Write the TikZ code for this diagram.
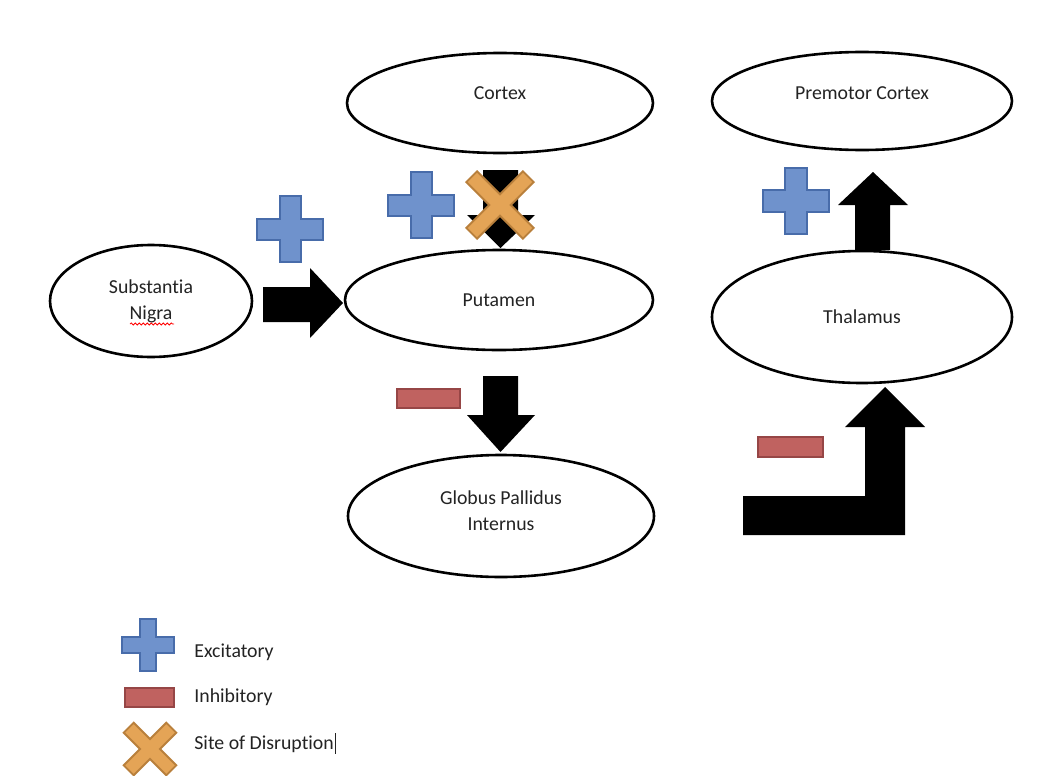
\documentclass[tikz,border=0pt]{standalone}
\usepackage{fontspec}
\setmainfont{Carlito}[RawFeature=-liga]
\usetikzlibrary{shapes.geometric,decorations.pathmorphing}

\definecolor{plusblue}{RGB}{111,146,204}
\definecolor{plusedge}{RGB}{72,108,170}
\definecolor{minusred}{RGB}{192,98,96}
\definecolor{minusedge}{RGB}{150,70,70}
\definecolor{crossorange}{RGB}{228,164,86}
\definecolor{crossedge}{RGB}{185,128,60}
\definecolor{inkgray}{RGB}{35,35,35}

\tikzset{
region/.style={ellipse, draw, line width=1.3pt, inner sep=0pt, align=center},
pics/excite/.style n args = {2}{
	code = {
	\draw[fill=plusblue, draw=plusedge, line width=1pt] (-#2,-#1) -- (#2,-#1) -- (#2,-#2) -- (#1,-#2) -- (#1,#2) -- (#2,#2) -- (#2,#1) -- (-#2,#1) -- (-#2,#2) -- (-#1,#2) -- (-#1,-#2) -- (-#2,-#2) -- cycle;
	}
	},
pics/inhibit/.style n args = {2}{
	code = {
	\draw[fill=minusred, draw=minusedge, line width=1pt] (-#1,-#2) rectangle (#1,#2);
	}
	},
pics/disrupt/.style n args = {2}{
	code = {
	\foreach \a in {45,-45}
		\draw[crossedge, line width=2pt, rotate=\a] (-#1,-#2) rectangle (#1,#2);
	\foreach \a in {45,-45}
		\fill[crossorange, rotate=\a] (-#1,-#2) rectangle (#1,#2);
	}
	}
}

\begin{document}
\begin{tikzpicture}[x=0.5pt, y=-0.5pt, font=\fontsize{9.9}{13}\selectfont, text=inkgray]
\useasboundingbox (0,0) rectangle (1055,776);

% regions
\node[region, minimum width=153pt, minimum height=50pt, text depth=10pt] (cortex) at (500,103) {Cortex};
\node[region, minimum width=150pt, minimum height=49pt, text depth=8pt] (premotor) at (862,101) {Premotor Cortex};
\node[region, minimum width=101pt, minimum height=56pt] (nigra) at (151,301) {Substantia\\Nigra};
\node[region, minimum width=154pt, minimum height=50pt] (putamen) at (499,300) {Putamen};
\node[region, minimum width=150pt, minimum height=66pt] (thalamus) at (862,317) {Thalamus};
\node[region, minimum width=153pt, minimum height=61pt, text depth=5pt] (pallidus) at (501,516) {Globus Pallidus\\Internus};
\draw[red, decorate, decoration={snake, segment length=2pt, amplitude=0.5pt}] (130,324) -- (174,324);

% block arrows
\fill (483,170) -- (518,170) -- (518,215) -- (535,215) -- (500.5,248) -- (467,215) -- (483,215) -- cycle;
\fill (263,287) -- (310,287) -- (310,268) -- (343,303) -- (310,338) -- (310,322) -- (263,322) -- cycle;
\fill (483,376) -- (518,376) -- (518,415) -- (535,415) -- (500.5,452) -- (467,415) -- (483,415) -- cycle;
\fill (855,250) -- (855,205) -- (838,205) -- (873,172) -- (908,205) -- (890,205) -- (890,250) -- cycle;
\fill (743,496) -- (865,496) -- (865,427) -- (845,427) -- (885,387) -- (925,427) -- (905,427) -- (905,535) -- (743,535) -- cycle;

% signs
\pic at (290,229) {excite={33}{10.5}};
\pic at (421,205) {excite={33}{10.5}};
\pic at (796,201) {excite={33}{11}};
\pic at (500,205) {disrupt={39}{6.5}};
\pic at (428.5,398.5) {inhibit={31.5}{9.5}};
\pic at (790.5,447) {inhibit={32.5}{10}};

% legend
\pic at (148,645) {excite={26}{8}};
\pic at (149.5,697.5) {inhibit={24.5}{9.5}};
\pic at (150,749) {disrupt={29}{6}};
\node[anchor=west, inner sep=0pt] (excitatory) at (194,652) {Excitatory};
\node[anchor=west, inner sep=0pt] (inhibitory) at (194,697) {Inhibitory};
\node[anchor=west, inner sep=0pt] (disruption) at (194,743) {Site of Disruption\hspace{0.5pt}\rule[-2pt]{0.5pt}{10.5pt}};
\end{tikzpicture}
\end{document}
